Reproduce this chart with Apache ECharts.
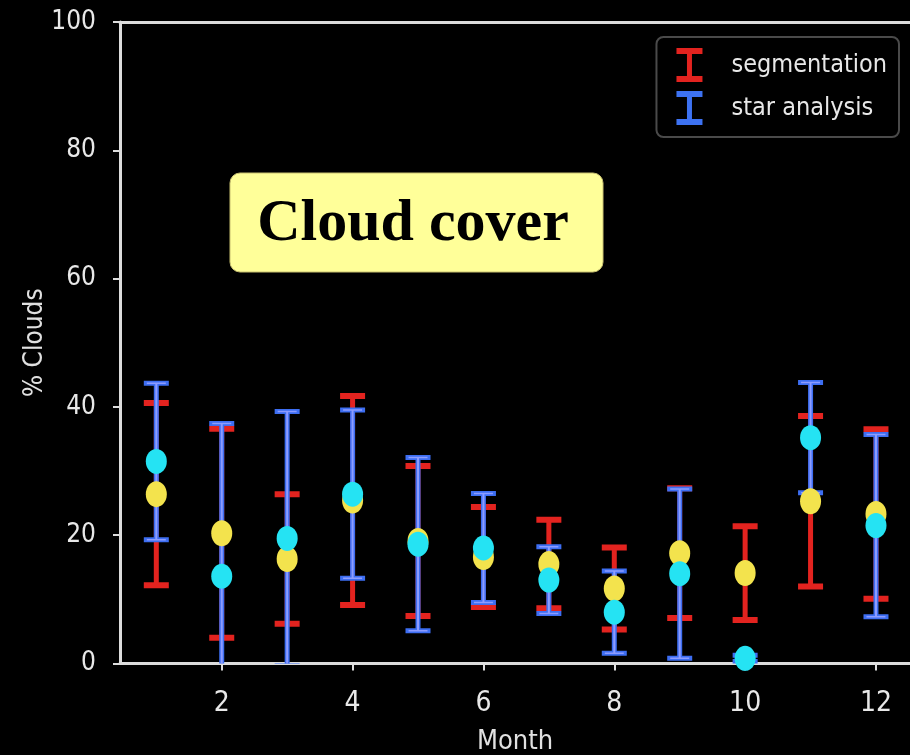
<!DOCTYPE html>
<html>
<head>
<meta charset="utf-8">
<script src="https://cdn.jsdelivr.net/npm/echarts@6/dist/echarts.min.js"></script>
<style>
html,body{margin:0;padding:0;background:#000;}
#chart{width:910px;height:755px;}
</style>
</head>
<body>
<div id="chart"></div>
<script>
// ---- data ----
var months = [1, 2, 3, 4, 5, 6, 7, 8, 9, 10, 11, 12];
var segMean = [26.4, 20.3, 16.3, 25.4, 19.1, 16.6, 15.5, 11.7, 17.2, 14.1, 25.3, 23.3];
var segErr  = [14.2, 16.3, 10.1, 16.3, 11.7, 7.8, 6.9, 6.4, 10.1, 7.3, 13.3, 13.2];
var starMean = [31.5, 13.6, 19.5, 26.4, 18.6, 18.0, 13.0, 8.0, 14.0, 0.8, 35.2, 21.5];
var starErr  = [12.2, 23.8, 19.8, 13.1, 13.5, 8.5, 5.2, 6.4, 13.2, 0.5, 8.6, 14.2];
var xTicks = [2, 4, 6, 8, 10, 12];
var yTicks = [0, 20, 40, 60, 80, 100];
var seriesNames = ['segmentation', 'star analysis'];
var titleText = 'Cloud cover';

var FONT = '"DejaVu Sans Condensed", "Liberation Sans Narrow", "DejaVu Sans", sans-serif';

function errData(mean, err) {
  return months.map(function (m, i) { return [m, mean[i] - err[i], mean[i] + err[i]]; });
}
function ptData(mean) {
  return months.map(function (m, i) { return [m, mean[i]]; });
}

function makeErrRender(color, core, lw, capW, capLw) {
  return function (params, api) {
    var x = api.value(0);
    var lo = api.coord([x, api.value(1)]);
    var hi = api.coord([x, api.value(2)]);
    var half = capW / 2;
    var children = [
      { type: 'line', shape: { x1: lo[0], y1: lo[1], x2: hi[0], y2: hi[1] }, style: { stroke: color, lineWidth: lw } },
      { type: 'line', shape: { x1: lo[0] - half, y1: lo[1], x2: lo[0] + half, y2: lo[1] }, style: { stroke: color, lineWidth: capLw } },
      { type: 'line', shape: { x1: hi[0] - half, y1: hi[1], x2: hi[0] + half, y2: hi[1] }, style: { stroke: color, lineWidth: capLw } }
    ];
    if (core) {
      children.push({ type: 'line', shape: { x1: lo[0], y1: lo[1], x2: hi[0], y2: hi[1] }, style: { stroke: core, lineWidth: 2 } });
      children.push({ type: 'line', shape: { x1: lo[0] - half + 3, y1: lo[1], x2: lo[0] + half - 3, y2: lo[1] }, style: { stroke: core, lineWidth: 1.5 } });
      children.push({ type: 'line', shape: { x1: hi[0] - half + 3, y1: hi[1], x2: hi[0] + half - 3, y2: hi[1] }, style: { stroke: core, lineWidth: 1.5 } });
    }
    return { type: 'group', children: children };
  };
}

var iconPath = 'path://M0,0 H26 V6 H15.5 V28 H26 V34 H0 V28 H10.5 V6 H0 Z';

var chart = echarts.init(document.getElementById('chart'));
chart.setOption({
  backgroundColor: '#000',
  animation: false,
  grid: { left: 120, right: 0, top: 22, bottom: 91.5, outerBoundsMode: 'none', containLabel: false },
  legend: {
    data: [
      { name: seriesNames[0], icon: iconPath, itemStyle: { color: '#e3231f' } },
      { name: seriesNames[1], icon: iconPath, itemStyle: { color: '#3d72f2' } }
    ],
    orient: 'vertical',
    right: 11,
    top: 37,
    padding: [11, 12, 12, 20],
    itemWidth: 26,
    itemHeight: 34,
    itemGap: 9,
    backgroundColor: '#000',
    borderColor: '#4a4a4a',
    borderWidth: 2,
    borderRadius: 7,
    textStyle: { color: '#e8e8e8', fontSize: 25, fontFamily: FONT, padding: [0, 0, 0, 24] }
  },
  graphic: [
    {
      type: 'group',
      z: 100,
      children: [
        { type: 'rect', shape: { x: 230, y: 173, width: 373, height: 99, r: 10 }, style: { fill: '#ffff99', stroke: '#c8c070', lineWidth: 1 } },
        { type: 'text', x: 413, y: 224, style: { text: titleText, font: 'bold 60px "Liberation Serif", "Times New Roman", serif', fill: '#000', align: 'center', verticalAlign: 'middle' } }
      ]
    }
  ],
  xAxis: [
    {
      type: 'value', min: 0.445, max: 12.52,
      name: 'Month', nameLocation: 'middle', nameGap: 65, nameMoveOverlap: false,
      nameTextStyle: { color: '#e0e0e0', fontSize: 27, fontFamily: FONT },
      axisLine: { show: true, lineStyle: { color: '#dcdcdc', width: 3 } },
      axisTick: { show: true, length: 7, lineStyle: { color: '#dcdcdc', width: 2 }, customValues: xTicks },
      axisLabel: { color: '#e8e8e8', fontSize: 28, fontFamily: FONT, margin: 26, customValues: xTicks },
      splitLine: { show: false }
    },
    {
      type: 'value', min: 0.445, max: 12.52, position: 'top',
      axisLine: { show: true, lineStyle: { color: '#dcdcdc', width: 3 } },
      axisTick: { show: false }, axisLabel: { show: false }, splitLine: { show: false }
    }
  ],
  yAxis: {
    type: 'value', min: 0, max: 100, interval: 20,
    name: '% Clouds', nameLocation: 'middle', nameGap: 72, nameRotate: 90, nameMoveOverlap: false,
    nameTextStyle: { color: '#e0e0e0', fontSize: 26, fontFamily: FONT },
    axisLine: { show: true, lineStyle: { color: '#dcdcdc', width: 3 } },
    axisTick: { show: true, length: 7, lineStyle: { color: '#dcdcdc', width: 2 }, customValues: yTicks },
    axisLabel: { color: '#e8e8e8', fontSize: 26, fontFamily: FONT, margin: 24, customValues: yTicks },
    splitLine: { show: false }
  },
  series: [
    {
      name: seriesNames[0], type: 'custom', clip: true, z: 2,
      itemStyle: { color: '#e3231f' },
      renderItem: makeErrRender('#e3231f', null, 5, 25, 6),
      data: errData(segMean, segErr)
    },
    {
      name: seriesNames[1], type: 'custom', clip: true, z: 3,
      itemStyle: { color: '#3d72f2' },
      renderItem: makeErrRender('#3d6ef2', '#8d9cff', 5, 25, 5),
      data: errData(starMean, starErr)
    },
    {
      name: 'seg points', type: 'scatter', z: 4, symbol: 'circle', symbolSize: [21, 26],
      itemStyle: { color: '#f3e34d', opacity: 1 },
      data: ptData(segMean)
    },
    {
      name: 'star points', type: 'scatter', z: 5, symbol: 'circle', symbolSize: [21, 25],
      itemStyle: { color: '#25e3f3', opacity: 1 },
      data: ptData(starMean)
    }
  ]
});
</script>
</body>
</html>
